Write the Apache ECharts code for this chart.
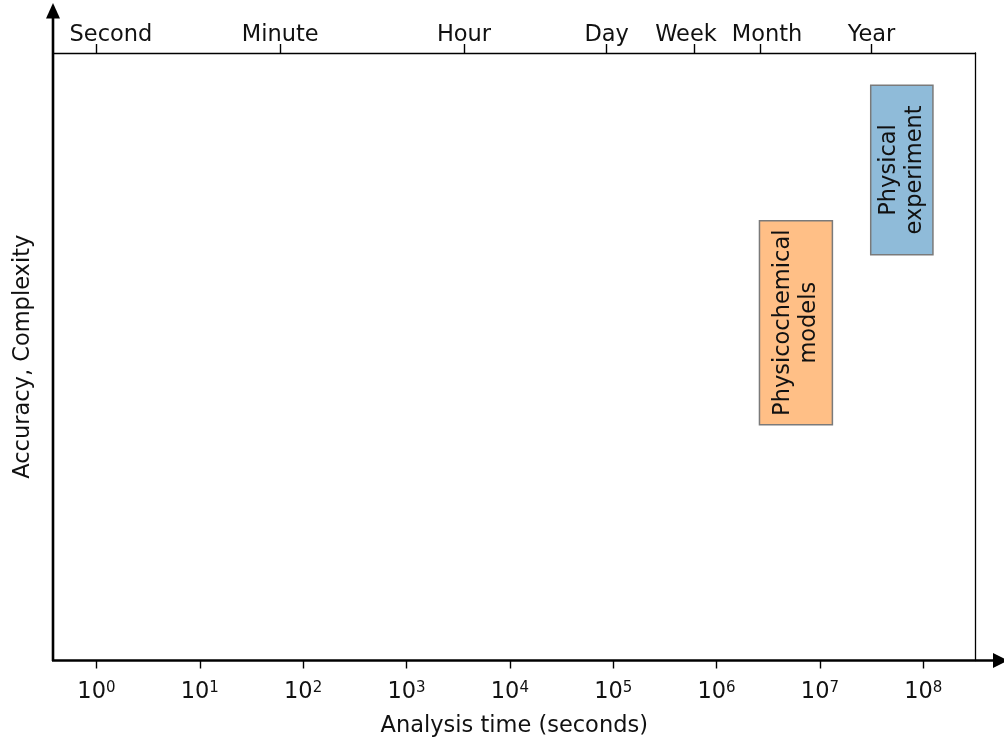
<!DOCTYPE html>
<html>
<head>
<meta charset="utf-8">
<script src="https://cdn.jsdelivr.net/npm/echarts@6/dist/echarts.min.js"></script>
<style>
  html, body { margin: 0; padding: 0; background: #fff; }
  #chart { width: 1004px; height: 740px; }
</style>
</head>
<body>
<div id="chart"></div>
<script>
// Analysis-time extent of the plot, in seconds
const timeMin = 0.38;
const timeMax = 3.2e8;

// Bottom axis: powers of ten (seconds)
const decadeTicks = [1, 10, 100, 1e3, 1e4, 1e5, 1e6, 1e7, 1e8];

// Top axis: everyday time units and their length in seconds
const unitNames = ['Second', 'Minute', 'Hour', 'Day', 'Week', 'Month', 'Year'];
const unitSeconds = [1, 60, 3600, 86400, 604800, 2629800, 31557600];

// Methods: analysis-time span (s) and accuracy/complexity span (0..1)
const methodNames = ['Physicochemical\nmodels', 'Physical\nexperiment'];
const methodTimeStart = [2.6e6, 3.1e7];
const methodTimeEnd = [1.32e7, 1.24e8];
const methodLevelLow = [0.388, 0.668];
const methodLevelHigh = [0.724, 0.947];

// Styling
const methodFills = ['rgba(255,127,14,0.5)', 'rgba(31,119,180,0.5)'];
const FONT = 'DejaVu Sans';
const FS = 22.5;
const INK = '#111';
// horizontal nudges (px) keeping crowded unit labels apart
const unitLabelNudge = { Second: 14.5, Week: -8, Month: 7 };

const methodData = methodNames.map((name, i) => ({
  name: name,
  value: [methodTimeStart[i], methodTimeEnd[i], methodLevelLow[i], methodLevelHigh[i]],
  itemStyle: { color: methodFills[i] }
}));

function nearestUnit(v) {
  let best = 0;
  for (let i = 1; i < unitSeconds.length; i++) {
    if (Math.abs(Math.log10(unitSeconds[i]) - Math.log10(v)) <
        Math.abs(Math.log10(unitSeconds[best]) - Math.log10(v))) best = i;
  }
  return best;
}

// one rich style per unit label; padding on one side shifts the centred text
const unitRich = {};
unitNames.forEach((name, i) => {
  const d = unitLabelNudge[name] || 0;
  unitRich['u' + i] = {
    fontFamily: FONT, fontSize: FS, color: INK,
    padding: d >= 0 ? [0, 0, 0, 2 * d] : [0, -2 * d, 0, 0]
  };
});

function unitLabel(v) {
  const i = nearestUnit(v);
  return '{u' + i + '|' + unitNames[i] + '}';
}

const chart = echarts.init(document.getElementById('chart'), null, { renderer: 'canvas' });

const option = {
  animation: false,
  backgroundColor: '#fff',
  textStyle: { fontFamily: FONT, color: INK },
  grid: { left: 53, right: 28.5, top: 53, bottom: 79.5, containLabel: false, outerBoundsMode: 'none' },
  xAxis: [
    {
      type: 'log',
      logBase: 10,
      min: timeMin,
      max: timeMax,
      position: 'bottom',
      name: 'Analysis time (seconds)',
      nameLocation: 'middle',
      nameGap: 54,
      nameTextStyle: { fontFamily: FONT, fontSize: FS, color: INK },
      axisLine: { show: false, onZero: false },
      axisTick: { show: true, length: 8, customValues: decadeTicks,
                  lineStyle: { color: '#000', width: 1.4 } },
      minorTick: { show: false },
      splitLine: { show: false },
      axisLabel: {
        customValues: decadeTicks,
        margin: 20,
        formatter: v => '{b|10}{s|' + Math.round(Math.log10(v)) + '}',
        rich: {
          b: { fontFamily: FONT, fontSize: FS, color: INK, verticalAlign: 'bottom' },
          s: { fontFamily: FONT, fontSize: 15, color: INK, verticalAlign: 'bottom', padding: [0, 0, 8, 0] }
        }
      }
    },
    {
      type: 'log',
      logBase: 10,
      min: timeMin,
      max: timeMax,
      position: 'top',
      axisLine: { show: true, onZero: false, lineStyle: { color: '#000', width: 1.3 } },
      axisTick: { show: true, length: 9, customValues: unitSeconds,
                  lineStyle: { color: '#000', width: 1.4 } },
      minorTick: { show: false },
      splitLine: { show: false },
      axisLabel: {
        customValues: unitSeconds,
        margin: 6,
        fontFamily: FONT,
        fontSize: FS,
        color: INK,
        formatter: unitLabel,
        rich: unitRich
      }
    }
  ],
  yAxis: [
    {
      type: 'value',
      min: 0,
      max: 1,
      position: 'left',
      name: 'Accuracy, Complexity',
      nameLocation: 'middle',
      nameGap: 18,
      nameTextStyle: { fontFamily: FONT, fontSize: FS, color: INK },
      axisLine: { show: false, onZero: false },
      axisTick: { show: false },
      axisLabel: { show: false },
      splitLine: { show: false }
    },
    {
      type: 'value',
      min: 0,
      max: 1,
      position: 'right',
      axisLine: { show: true, onZero: false, lineStyle: { color: '#000', width: 1.3 } },
      axisTick: { show: false },
      axisLabel: { show: false },
      splitLine: { show: false }
    }
  ],
  series: [
    {
      type: 'custom',
      xAxisIndex: 0,
      yAxisIndex: 0,
      data: methodData,
      renderItem: function (params, api) {
        const p0 = api.coord([api.value(0), api.value(3)]);
        const p1 = api.coord([api.value(1), api.value(2)]);
        const item = methodData[params.dataIndex];
        return {
          type: 'group',
          children: [
            {
              type: 'rect',
              shape: { x: p0[0], y: p0[1], width: p1[0] - p0[0], height: p1[1] - p0[1] },
              style: { fill: item.itemStyle.color, stroke: '#7a7a7a', lineWidth: 1.5 }
            },
            {
              type: 'text',
              x: (p0[0] + p1[0]) / 2,
              y: (p0[1] + p1[1]) / 2,
              rotation: Math.PI / 2,
              style: {
                text: item.name,
                fontFamily: FONT,
                fontSize: FS,
                lineHeight: 26,
                fill: INK,
                align: 'center',
                verticalAlign: 'middle'
              }
            }
          ]
        };
      }
    }
  ],
  graphic: [
    // vertical axis arrow
    { type: 'line', shape: { x1: 53, y1: 661, x2: 53, y2: 16 }, style: { stroke: '#000', lineWidth: 2.6 } },
    { type: 'polygon', shape: { points: [[53, 3], [46, 18.5], [60, 18.5]] }, style: { fill: '#000' } },
    // horizontal axis arrow
    { type: 'line', shape: { x1: 52, y1: 660.5, x2: 995, y2: 660.5 }, style: { stroke: '#000', lineWidth: 2.6 } },
    { type: 'polygon', shape: { points: [[1008, 660.5], [993, 653], [993, 668]] }, style: { fill: '#000' } }
  ]
};

chart.setOption(option);
</script>
</body>
</html>
